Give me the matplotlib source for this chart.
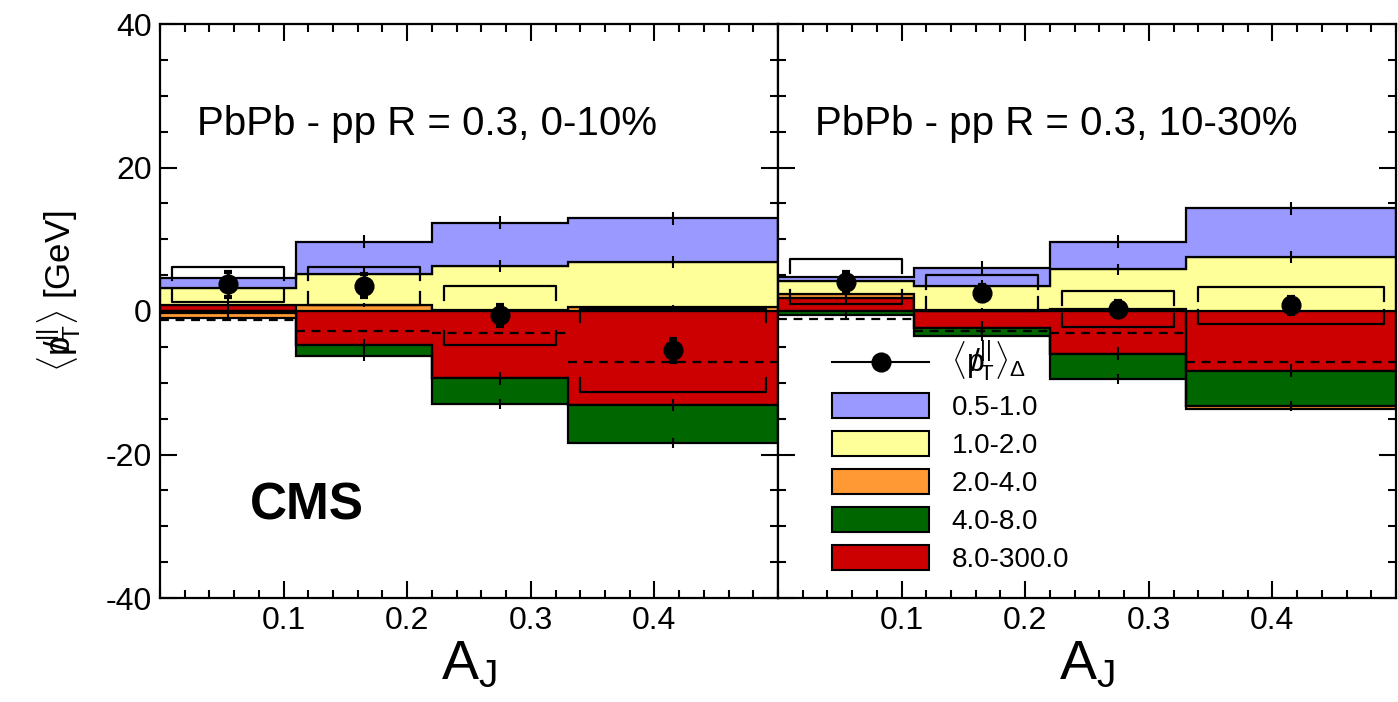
import numpy as np
import matplotlib
matplotlib.use("Agg")
import matplotlib.pyplot as plt
from matplotlib.ticker import MultipleLocator
from matplotlib.lines import Line2D
from matplotlib.patches import Patch

plt.rcParams['font.family'] = ['Liberation Sans', 'DejaVu Sans']
plt.rcParams['mathtext.fontset'] = 'custom'
plt.rcParams['mathtext.rm'] = 'Liberation Sans'
plt.rcParams['mathtext.it'] = 'Liberation Sans:italic'
plt.rcParams['axes.unicode_minus'] = False

# A_J binning
edges = [0.0, 0.11, 0.22, 0.33, 0.5]
centers = [0.055, 0.165, 0.275, 0.415]

# pT ranges, stacked from zero outwards in this order
stack_order = ['8.0-300.0', '4.0-8.0', '2.0-4.0', '1.0-2.0', '0.5-1.0']
colors = {'0.5-1.0': '#9999ff', '1.0-2.0': '#ffff99', '2.0-4.0': '#ff9933',
          '4.0-8.0': '#006600', '8.0-300.0': '#cc0000'}
comp_err = {'0.5-1.0': 0.9, '1.0-2.0': 0.8, '2.0-4.0': 0.3, '4.0-8.0': 0.7, '8.0-300.0': 0.9}

# 0-10% centrality
c010 = {
    '8.0-300.0': [0.8, -4.75, -9.4, -13.1],
    '4.0-8.0':   [-0.3, -1.5, -3.5, -5.3],
    '2.0-4.0':   [-0.7, 0.85, 0.2, 0.55],
    '1.0-2.0':   [2.35, 4.35, 6.05, 6.25],
    '0.5-1.0':   [1.45, 4.45, 6.05, 6.1],
}
mean_010 = [3.7, 3.5, -0.6, -5.5]
stat_010 = [1.7, 1.6, 1.5, 1.6]
syst_010 = [2.5, 2.7, 4.1, 5.8]
dash_010 = [-1.25, -2.8, -3.1, -7.05]

# 10-30% centrality
c1030 = {
    '8.0-300.0': [1.85, -2.3, -5.95, -8.35],
    '4.0-8.0':   [-0.55, -1.2, -3.5, -4.9],
    '2.0-4.0':   [0.45, 0.15, 0.3, -0.35],
    '1.0-2.0':   [1.95, 3.35, 5.5, 7.5],
    '0.5-1.0':   [0.5, 2.55, 3.85, 6.8],
}
mean_1030 = [4.1, 2.5, 0.25, 0.8]
stat_1030 = [1.3, 1.1, 1.1, 1.2]
syst_1030 = [3.1, 2.45, 2.5, 2.55]
dash_1030 = [-1.15, -2.8, -3.1, -7.05]


def draw_panel(ax, comps, mean, stat, syst, dashed, title):
    pos = np.zeros(len(centers))
    neg = np.zeros(len(centers))
    for name in stack_order:
        v = np.array(comps[name])
        base = np.where(v >= 0, pos, neg)
        top = base + v
        ax.stairs(top, edges, baseline=base, fill=True, facecolor=colors[name],
                  edgecolor='black', linewidth=1.6, zorder=2)
        ax.errorbar(centers, top, yerr=comp_err[name], fmt='none', ecolor='black',
                    elinewidth=1.5, zorder=3)
        pos = np.where(v >= 0, top, pos)
        neg = np.where(v < 0, top, neg)

    ax.hlines(dashed, edges[:-1], edges[1:], colors='black', linestyles=(0, (4, 3)),
              linewidth=1.6, zorder=4)

    # systematic brackets
    d = 1.9
    for i in range(len(centers)):
        x0 = edges[i] + 0.01
        x1 = edges[i + 1] - 0.01
        hi = mean[i] + syst[i]
        lo = mean[i] - syst[i]
        ax.plot([x0, x0, x1, x1], [hi - d, hi, hi, hi - d], color='black', lw=1.6, zorder=5)
        ax.plot([x0, x0, x1, x1], [lo + d, lo, lo, lo + d], color='black', lw=1.6, zorder=5)

    ax.errorbar(centers, mean, yerr=stat, fmt='o', color='black', ms=13.5, elinewidth=2,
                capsize=3, capthick=3, zorder=10)

    ax.set_xlim(0, 0.5)
    ax.set_ylim(-40, 40)
    ax.set_xticks([0.1, 0.2, 0.3, 0.4])
    ax.set_xticklabels(['0.1', '0.2', '0.3', '0.4'])
    ax.xaxis.set_minor_locator(MultipleLocator(0.02))
    ax.yaxis.set_major_locator(MultipleLocator(20))
    ax.yaxis.set_minor_locator(MultipleLocator(5))
    ax.tick_params(which='both', direction='in', top=True, right=True, width=1.5)
    ax.tick_params(which='major', length=12.5, labelsize=23, pad=6)
    ax.tick_params(which='minor', length=6)
    for s in ax.spines.values():
        s.set_linewidth(1.6)
    ax.set_xlabel(r'$\mathrm{A_J}$', fontsize=40, labelpad=2)
    ax.text(0.06, 0.807, title, transform=ax.transAxes, fontsize=29, va='baseline')


fig = plt.figure(figsize=(13.98, 7.02), dpi=100)
ax1 = fig.add_axes([160 / 1398, 104 / 702, 618 / 1398, 574 / 702])
ax2 = fig.add_axes([778 / 1398, 104 / 702, 618 / 1398, 574 / 702])

draw_panel(ax1, c010, mean_010, stat_010, syst_010, dash_010, 'PbPb - pp R = 0.3, 0-10%')
draw_panel(ax2, c1030, mean_1030, stat_1030, syst_1030, dash_1030, 'PbPb - pp R = 0.3, 10-30%')
ax2.tick_params(labelleft=False)

ax1.set_ylabel(r'$\langle \mathrm{p}\!\!\!/_{\mathrm{T}}^{||}\rangle$ [GeV]', fontsize=25)
ax1.yaxis.set_label_coords(-0.125, 0.535)
ax1.text(0.146, 0.136, 'CMS', transform=ax1.transAxes, fontsize=37, fontweight='bold',
         va='baseline')

handles = [Line2D([], [], color='black', marker='o', ms=13.5, lw=1.5)]
labels = [r'$\langle \mathrm{p}\!\!\!/_{\mathrm{T}}^{||}\rangle_{\Delta}$']
for name in ['0.5-1.0', '1.0-2.0', '2.0-4.0', '4.0-8.0', '8.0-300.0']:
    handles.append(Patch(facecolor=colors[name], edgecolor='black', linewidth=1.5))
    labels.append(name)
leg = ax2.legend(handles, labels, loc='upper left', bbox_to_anchor=(832 / 1398, 1 - 339 / 702),
                 bbox_transform=fig.transFigure, frameon=False, fontsize=20, handlelength=3.5,
                 handleheight=1.0, labelspacing=0.36, handletextpad=0.8, borderpad=0,
                 borderaxespad=0)
leg.get_texts()[0].set_fontsize(23)

fig.savefig('out.png', dpi=100)
